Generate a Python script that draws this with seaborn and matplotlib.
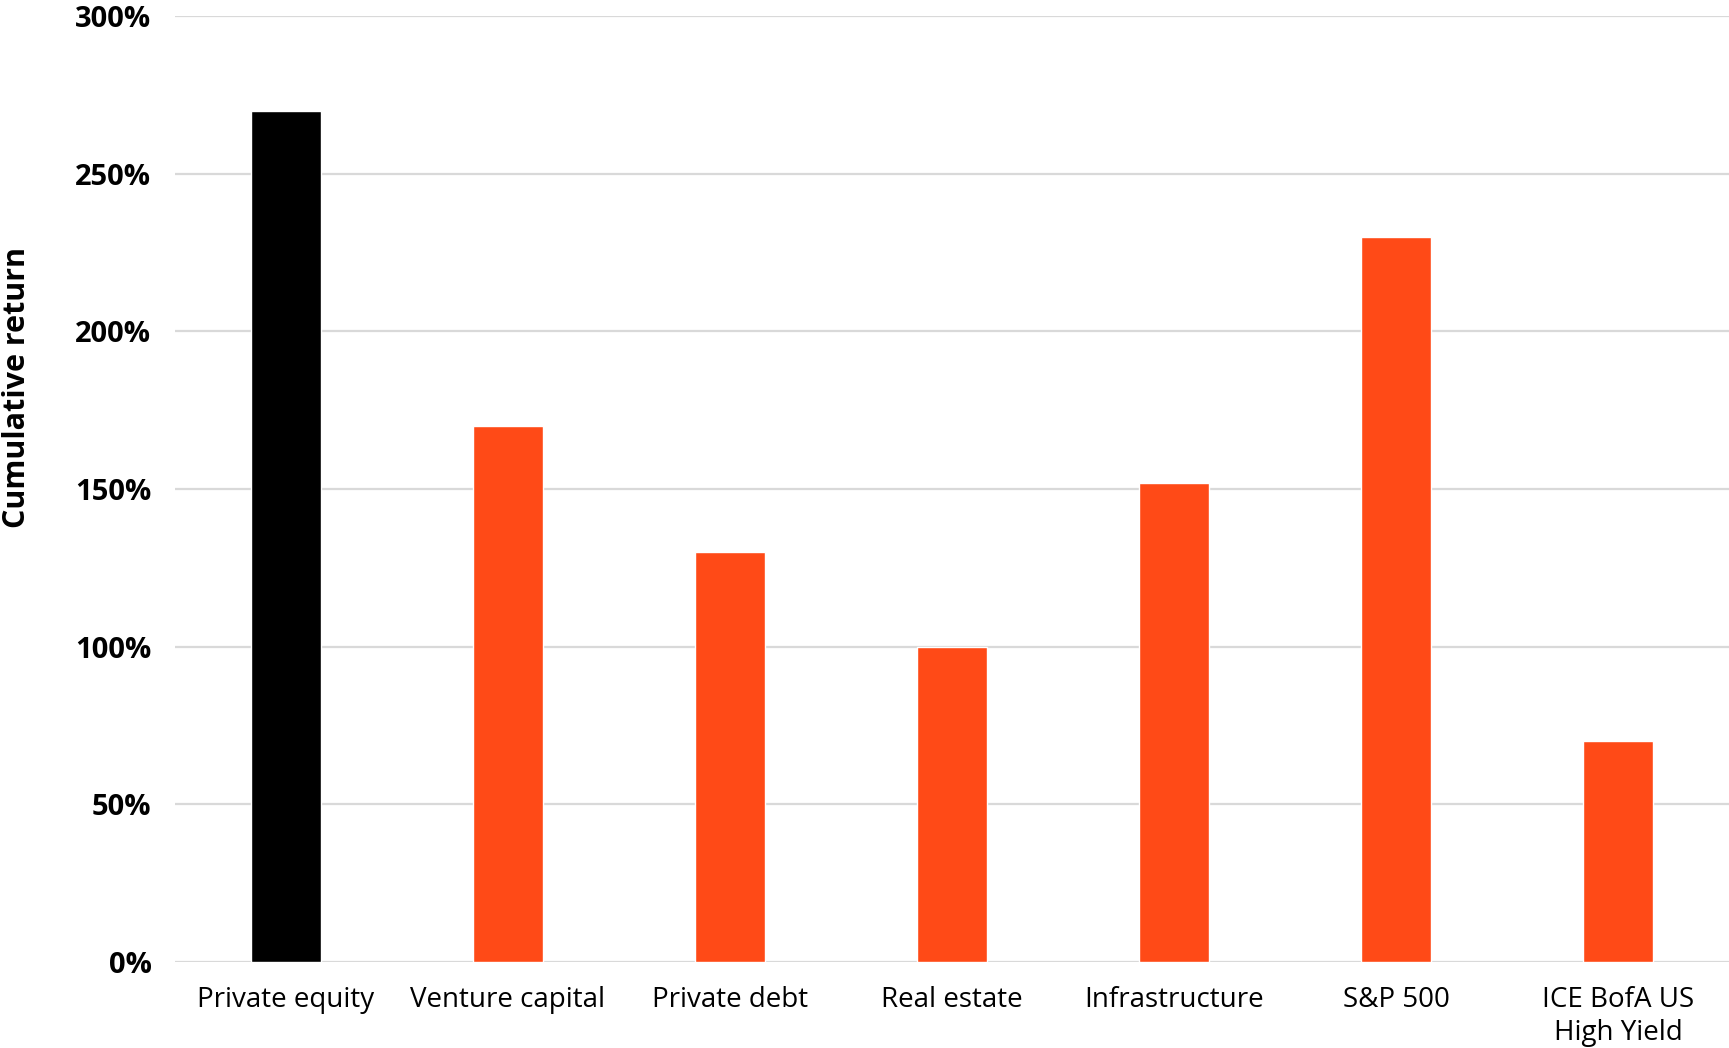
import matplotlib
matplotlib.use("Agg")
import matplotlib.pyplot as plt
import seaborn as sns
import pandas as pd
from matplotlib.ticker import FuncFormatter

categories = ["Private equity", "Venture capital", "Private debt", "Real estate",
              "Infrastructure", "S&P 500", "ICE BofA US\nHigh Yield"]
values = [270, 170, 130, 100, 152, 230, 70]
colors = ["#000000", "#FF4A17", "#FF4A17", "#FF4A17", "#FF4A17", "#FF4A17", "#FF4A17"]
yticks = [0, 50, 100, 150, 200, 250, 300]

sns.set_theme(style="white")
plt.rcParams['font.family'] = ['Open Sans', 'DejaVu Sans']
plt.rcParams['text.color'] = 'black'
plt.rcParams['xtick.color'] = 'black'
plt.rcParams['ytick.color'] = 'black'

df = pd.DataFrame({"category": categories, "value": values})

fig = plt.figure(figsize=(17.29, 10.48), dpi=100)
ax = fig.add_axes([175/1729, 86/1048, 1 - 175/1729, (962-16)/1048])

sns.barplot(data=df, x="category", y="value", hue="category",
            palette=colors, width=0.315, legend=False, ax=ax, saturation=1)

ax.set_ylim(0, 300)
ax.set_yticks(yticks)
ax.yaxis.set_major_formatter(FuncFormatter(lambda v, p: f"{int(v)}%"))
ax.set_xlim(-0.5, len(categories) - 0.5)
ax.grid(axis="y", color="#D9D9D9", linewidth=1.6, zorder=0)
ax.set_axisbelow(True)
for s in ax.spines.values():
    s.set_visible(False)
ax.tick_params(axis="y", length=0, pad=17, labelsize=21)
ax.tick_params(axis="x", length=0, pad=17, labelsize=20)
for lbl in ax.get_yticklabels():
    lbl.set_fontweight("bold")
for lbl in ax.get_xticklabels():
    lbl.set_linespacing(1.25)
ax.set_xlabel("")
ax.set_ylabel("")
fig.text(17/1729, 1 - 388/1048, "Cumulative return", rotation=90, ha="center", va="center",
         fontsize=22, fontweight="bold", color="black")

fig.savefig("out.png", dpi=100)
